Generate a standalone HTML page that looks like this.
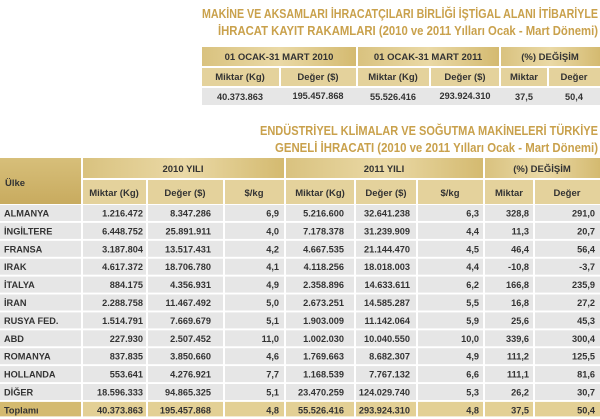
<!DOCTYPE html>
<html><head><meta charset="utf-8"><style>
html,body{margin:0;padding:0;background:#fff;width:600px;height:419px;overflow:hidden}
svg{display:block}
text{font-family:"Liberation Sans",sans-serif;font-weight:bold;fill:#333}
.t{fill:#c9a14c;font-size:13px}
.d{font-size:9.2px}
.h{font-size:9.5px}
</style></head><body>
<svg width="600" height="419" viewBox="0 0 600 419" xmlns="http://www.w3.org/2000/svg">
<defs>
<linearGradient id="g1" x1="0" x2="1" y1="0" y2="0"><stop offset="0" stop-color="#d9c27f"/><stop offset="0.5" stop-color="#ead9a6"/><stop offset="1" stop-color="#d4ba70"/></linearGradient>
<linearGradient id="g2" x1="0" x2="0" y1="0" y2="1"><stop offset="0" stop-color="#d7bf7a"/><stop offset="1" stop-color="#c8ab5f"/></linearGradient>
</defs>
<text class="t" x="202" y="18" textLength="396" lengthAdjust="spacingAndGlyphs">MAKİNE VE AKSAMLARI İHRACATÇILARI BİRLİĞİ İŞTİGAL ALANI İTİBARİYLE</text>
<text class="t" x="218" y="35" textLength="380" lengthAdjust="spacingAndGlyphs">İHRACAT KAYIT RAKAMLARI (2010 ve 2011 Yılları Ocak - Mart Dönemi)</text>
<g>
<rect x="202" y="47" width="154" height="19" fill="url(#g1)"/>
<rect x="358" y="47" width="141" height="19" fill="url(#g1)"/>
<rect x="501" y="47" width="99" height="19" fill="url(#g1)"/>
<rect x="202" y="68" width="77" height="18" fill="#e4d29c"/>
<rect x="281" y="68" width="75" height="18" fill="#e4d29c"/>
<rect x="358" y="68" width="71" height="18" fill="#e4d29c"/>
<rect x="431" y="68" width="68" height="18" fill="#e4d29c"/>
<rect x="501" y="68" width="46" height="18" fill="#e4d29c"/>
<rect x="549" y="68" width="51" height="18" fill="#e4d29c"/>
<rect x="202" y="88" width="398" height="17" fill="#e6e6e6"/>
<text class="h" x="279" y="60" text-anchor="middle">01 OCAK-31 MART 2010</text>
<text class="h" x="428" y="60" text-anchor="middle">01 OCAK-31 MART 2011</text>
<text class="h" x="550" y="60" text-anchor="middle">(%) DEĞİŞİM</text>
<text class="h" x="240" y="80" text-anchor="middle">Miktar (Kg)</text>
<text class="h" x="318" y="80" text-anchor="middle">Değer ($)</text>
<text class="h" x="393" y="80" text-anchor="middle">Miktar (Kg)</text>
<text class="h" x="465" y="80" text-anchor="middle">Değer ($)</text>
<text class="h" x="524" y="80" text-anchor="middle">Miktar</text>
<text class="h" x="574" y="80" text-anchor="middle">Değer</text>
<text class="d" x="240" y="100" text-anchor="middle">40.373.863</text>
<text class="d" x="318" y="99" text-anchor="middle">195.457.868</text>
<text class="d" x="393" y="100" text-anchor="middle">55.526.416</text>
<text class="d" x="465" y="99" text-anchor="middle">293.924.310</text>
<text class="d" x="524" y="100" text-anchor="middle">37,5</text>
<text class="d" x="574" y="100" text-anchor="middle">50,4</text>
</g>
<text class="t" x="260" y="135" textLength="338" lengthAdjust="spacingAndGlyphs">ENDÜSTRİYEL KLİMALAR VE SOĞUTMA MAKİNELERİ TÜRKİYE</text>
<text class="t" x="275" y="152" textLength="323" lengthAdjust="spacingAndGlyphs">GENELİ İHRACATI (2010 ve 2011 Yılları Ocak - Mart Dönemi)</text>
<rect x="0" y="158" width="81" height="46" fill="url(#g2)"/>
<rect x="83" y="158" width="201" height="20" fill="url(#g1)"/>
<rect x="286" y="158" width="197" height="20" fill="url(#g1)"/>
<rect x="485" y="158" width="115" height="20" fill="url(#g1)"/>
<g fill="#e4d29c">
<rect x="83" y="180" width="63" height="24"/>
<rect x="148" y="180" width="75" height="24"/>
<rect x="225" y="180" width="59" height="24"/>
<rect x="286" y="180" width="68" height="24"/>
<rect x="356" y="180" width="60" height="24"/>
<rect x="418" y="180" width="65" height="24"/>
<rect x="485" y="180" width="48" height="24"/>
<rect x="535" y="180" width="65" height="24"/>
</g>
<text class="h" x="5" y="186">Ülke</text>
<text class="h" x="183" y="172" text-anchor="middle">2010 YILI</text>
<text class="h" x="384" y="172" text-anchor="middle">2011 YILI</text>
<text class="h" x="542" y="172" text-anchor="middle">(%) DEĞİŞİM</text>
<text class="h" x="114" y="196" text-anchor="middle">Miktar (Kg)</text>
<text class="h" x="185" y="196" text-anchor="middle">Değer ($)</text>
<text class="h" x="254" y="196" text-anchor="middle">$/kg</text>
<text class="h" x="320" y="196" text-anchor="middle">Miktar (Kg)</text>
<text class="h" x="386" y="196" text-anchor="middle">Değer ($)</text>
<text class="h" x="450" y="196" text-anchor="middle">$/kg</text>
<text class="h" x="509" y="196" text-anchor="middle">Miktar</text>
<text class="h" x="567" y="196" text-anchor="middle">Değer</text>
<g id="rows"></g>
</svg>
<script>
var data=[
["ALMANYA","1.216.472","8.347.286","6,9","5.216.600","32.641.238","6,3","328,8","291,0"],
["İNGİLTERE","6.448.752","25.891.911","4,0","7.178.378","31.239.909","4,4","11,3","20,7"],
["FRANSA","3.187.804","13.517.431","4,2","4.667.535","21.144.470","4,5","46,4","56,4"],
["IRAK","4.617.372","18.706.780","4,1","4.118.256","18.018.003","4,4","-10,8","-3,7"],
["İTALYA","884.175","4.356.931","4,9","2.358.896","14.633.611","6,2","166,8","235,9"],
["İRAN","2.288.758","11.467.492","5,0","2.673.251","14.585.287","5,5","16,8","27,2"],
["RUSYA FED.","1.514.791","7.669.679","5,1","1.903.009","11.142.064","5,9","25,6","45,3"],
["ABD","227.930","2.507.452","11,0","1.002.030","10.040.550","10,0","339,6","300,4"],
["ROMANYA","837.835","3.850.660","4,6","1.769.663","8.682.307","4,9","111,2","125,5"],
["HOLLANDA","553.641","4.276.921","7,7","1.168.539","7.767.132","6,6","111,1","81,6"],
["DİĞER","18.596.333","94.865.325","5,1","23.470.259","124.029.740","5,3","26,2","30,7"],
["Toplamı","40.373.863","195.457.868","4,8","55.526.416","293.924.310","4,8","37,5","50,4"]];
var cols=[[0,81],[83,63],[148,75],[225,59],[286,68],[356,60],[418,65],[485,48],[535,65]];
var ends=[4,143,211,279,344,410,479,529,595];
var ns="http://www.w3.org/2000/svg",g=document.getElementById("rows");
data.forEach(function(r,i){
 var y=205+i*17.9,h=i==11?14.5:16;
 var tot=i==11;
 cols.forEach(function(c,j){
  var rc=document.createElementNS(ns,"rect");
  rc.setAttribute("x",c[0]);rc.setAttribute("y",y);rc.setAttribute("width",c[1]);rc.setAttribute("height",h);
  rc.setAttribute("fill",tot?(j==0?"#d4ba70":"#e3d095"):"#e6e6e6");g.appendChild(rc);
  var t=document.createElementNS(ns,"text");
  t.setAttribute("class","d");t.setAttribute("x",ends[j]);t.setAttribute("y",y+11.5);
  if(j>0)t.setAttribute("text-anchor","end");
  t.textContent=r[j];g.appendChild(t);
 });
});
</script>
</body></html>
